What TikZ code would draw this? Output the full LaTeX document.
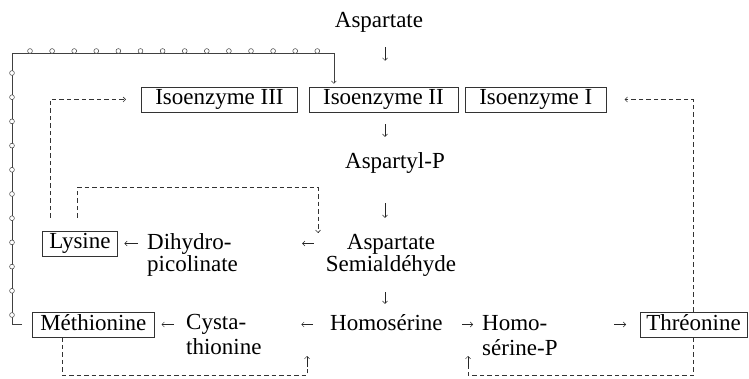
\documentclass[tikz,border=0pt]{standalone}
\usepackage{fontspec}
\setmainfont{Liberation Serif}
\usetikzlibrary{arrows.meta,positioning}

\tikzset{
  enz/.style={draw=black!80, line width=0.5pt, inner xsep=14pt, inner ysep=1.5pt,
    text height=16.5pt, text depth=5.5pt},
  mol/.style={inner sep=0pt},
  twoline/.style={inner sep=0pt, align=left, font=\fontsize{23}{25}\selectfont},
  flow/.style={draw=black!85, line width=0.5pt, -{Straight Barb[length=2.5pt,width=5pt]}},
  retro/.style={draw=black!80, line width=0.6pt, dash pattern=on 4.5pt off 3pt,
    -{Straight Barb[length=2.5pt,width=5pt]}},
  ringline/.style={draw=black!75, line width=0.5pt}
}

\begin{document}
\begin{tikzpicture}[x=1pt,y=-1pt,font=\fontsize{23}{22}\selectfont]
  \useasboundingbox (0,0) rectangle (749,379);
  \coordinate (col) at (385,0);

  % main chain
  \node[mol, anchor=base] (asp) at (379,28) {Aspartate};

  \node[enz, anchor=base west] (iso3) at (141,105) {Isoenzyme III};
  \node[enz, right=11pt of iso3] (iso2) {Isoenzyme II};
  \node[enz, right=7pt of iso2] (iso1) {Isoenzyme I};

  \node[mol, anchor=base] (aspp) at (395,169) {Aspartyl-P};
  \node[mol, align=center, anchor=north] (asa) at (391,233.8) {Aspartate\\Semialdéhyde};

  \node[enz, inner xsep=7pt, anchor=base west] (lys) at (42,249) {Lysine};
  \node[mol, align=left, anchor=north west] (dhp) at (147,233.3) {Dihydro-\\picolinate};

  \node[enz, inner xsep=8pt, anchor=base west] (met) at (32,330) {Méthionine};
  \node[twoline, anchor=north west] (cys) at (186,314.5) {Cysta-\\thionine};
  \node[mol, anchor=base west] (hse) at (330,330) {Homosérine};
  \node[twoline, anchor=north west] (hsp) at (482,314.8) {Homo-\\sérine-P};
  \node[enz, inner xsep=6pt, anchor=base west] (thr) at (640,330) {Thréonine};

  % steps
  \draw[flow, shorten <=14pt, shorten >=26pt] (col |- asp.south) -- (col |- iso2.north);
  \draw[flow, shorten <=12pt, shorten >=16pt] (col |- iso2.south) -- (col |- aspp.north);
  \draw[flow, shorten <=29pt, shorten >=16pt] (col |- aspp.south) -- (col |- asa.north);
  \draw[flow, shorten <=16pt, shorten >=10pt] (col |- asa.south) -- (col |- hse.north);

  \draw[flow, shorten <=12pt, shorten >=64pt] (asa.west |- lys) -- (dhp.east |- lys);
  \draw[flow, shorten <=9pt, shorten >=6.5pt] (dhp.west |- lys) -- (lys.east);

  \draw[flow, shorten <=12pt, shorten >=7pt] (cys.west |- met) -- (met.east);
  \draw[flow, shorten <=17pt, shorten >=39.5pt] (hse.west |- met) -- (cys.east |- met);
  \draw[flow, shorten <=19.5pt, shorten >=9pt] (hse.east |- met) -- (hsp.west |- met);
  \draw[flow, shorten <=56.5pt, shorten >=14pt] (hsp.east |- met) -- (thr.west);

  % retro-inhibition
  \coordinate (stepA) at (318,233);
  \coordinate (stepM) at (307,367);
  \coordinate (stepT) at (468,367);
  \coordinate (ocorner) at (12,53);

  \draw[retro] ([xshift=8pt,yshift=13pt]lys.north west) |- ([xshift=-15pt]iso3.west);
  \draw[retro] ([xshift=35pt,yshift=13pt]lys.north west) -- ++(0,-30) -| (stepA);
  \draw[retro] (thr.north) |- ([xshift=18pt]iso1.east);
  \draw[retro, -] (thr.south) -- ++(0,38) -| (stepT);
  \draw[flow] (stepT) -- ++(0,-11);
  \draw[retro, -] ([xshift=30pt]met.south west) -- ++(0,38) -| (stepM);
  \draw[flow] (stepM) -- ++(0,-11);

  \draw[ringline, -{Straight Barb[length=2.5pt,width=5pt]}]
    ([xshift=-10pt]met.west) -| (ocorner) -| ([xshift=25pt,yshift=3pt]iso2.north west);
  \foreach \i in {0,...,13}
    \filldraw[ringline, fill=white] ({30+22.1*\i},51) circle (2.4pt);
  \foreach \j in {0,...,10}
    \filldraw[ringline, fill=white] (12,{73+24.2*\j}) circle (2.4pt);

\end{tikzpicture}
\end{document}
